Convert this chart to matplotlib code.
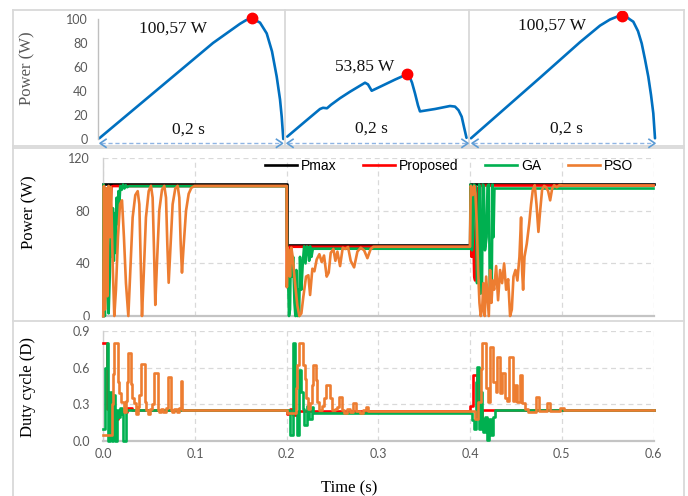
import matplotlib
matplotlib.use("Agg")
import matplotlib.pyplot as plt
from matplotlib.lines import Line2D

# ---------------- data ----------------
# top strip: P-V curves (x = fraction of the 0.2 s sweep, y = power W)
pv1_x = [0.0054, 0.2795, 0.6200, 0.7659, 0.7984, 0.8292, 0.8740, 0.9103, 0.9389, 0.9643, 0.9822, 0.9914, 1.0]
pv1_p = [0.6, 36, 80, 96, 99, 100.57, 97, 88, 73, 52, 33, 18.6, 0]
pv1_peak = (0.8292, 100.57)

pv2_x = [0.0033, 0.1009, 0.1837, 0.2002, 0.2223, 0.2443, 0.294, 0.3492, 0.4319, 0.4484, 0.4688, 0.5146,
         0.5973, 0.6619, 0.6773, 0.6911, 0.7077, 0.7242, 0.7352, 0.818, 0.9007, 0.9283, 0.9476, 0.9652, 0.9779, 0.9917]
pv2_p = [2, 14.5, 25, 26, 25.6, 28.5, 34, 39.4, 46.9, 45.5, 40.2, 43.5,
         49.5, 53.85, 52, 47, 38, 28, 23, 25, 27.5, 27, 24, 18.6, 10, 1]
pv2_peak = (0.6619, 53.85)

pv3_x = [0.0027, 0.3757, 0.5919, 0.70, 0.7541, 0.7919, 0.8173, 0.8405, 0.8622, 0.88, 0.9054, 0.9254,
         0.9432, 0.9611, 0.9757, 0.9881, 0.9973]
pv3_p = [0.6, 50, 79, 92.5, 97.5, 99.8, 100.57, 100, 97.5, 95.7, 88, 78, 65, 50.8, 36, 21, 0.6]
pv3_peak = (0.8173, 100.57)

peak_labels = ["100,57 W", "53,85 W", "100,57 W"]
span_label = "0,2 s"

# middle: power tracking (W)
pmax_t = [0, 0.2, 0.4, 0.6]
pmax_p = [100.57, 53.85, 100.57, 100.57]

prop_p_t = [0, .001, .002, .003, .0045, .006, .0075, .009, .011, .2, .2003, .2015, .203,
            .4, .4005, .4015, .4025, .4035, .4045, .4055, .407, .409, .411, .6]
prop_p_v = [0, 95, 15, 97, 55, 98, 80, 98.5, 98.9, 98.9, 22, 48, 52.7,
            52.7, 99, 45, 98, 60, 30, 27, 98, 70, 99.3, 99.3]

ga_p_t = [0, .0004, .0008, .0012, .0017, .0022, .003, .0045, .0058, .007, .0085, .0095, .0105, .0115,
          .0125, .0135, .0145, .0155, .0165, .0175, .0185, .020, .0215, .023, .0245, .026, .028,
          .2, .2003, .201, .2025, .2036, .2045, .206, .207, .2085, .2095, .2105, .2115, .2125, .2135,
          .2145, .216, .2175, .219, .2205, .222, .2235, .2245, .2255, .227, .2285,
          .4, .4004, .4015, .402, .4032, .404, .406, .4075, .409, .4098, .4105, .4115, .413, .4138,
          .415, .4162, .418, .419, .4205, .4215, .4235, .4245, .4255, .4265, .6]
ga_p_v = [0, 100, 5, 98, 0, 95, 60, 20, 2, 30, 83, 45, 82, 42,
          78, 48, 90, 70, 95, 85, 99, 96, 100, 97, 99.5, 98, 98.8,
          98.8, 53, 45, 0, 5, 50, 30, 45, 10, 0, 35, 0, 20, 0,
          45, 20, 40, 53, 40, 53, 52, 42, 53, 45, 51.2,
          51.2, 100, 98, 50, 60, 100, 99, 25, 30, 100, 98, 17, 25, 100,
          99, 50, 60, 99, 100, 20, 18, 100, 60, 97, 97]

pso_p_t = [0, .0007, .0018, .0029, .0044, .0058, .0073, .0084, .0102, .012, .0138, .016, .0182, .0204,
           .0225, .0247, .0273, .0295, .032, .0349, .0375, .0393, .0407, .0422, .044, .0465, .0495,
           .052, .0538, .0553, .0567, .0585, .061, .064, .0665, .0684, .0698, .0713, .0727, .0756,
           .0785, .0811, .0829, .0844, .0858, .0873, .0902, .0931, .096, .0993,
           .2, .2002, .2007, .2022, .2036, .2051, .2065, .2091, .2116, .2138, .216, .2182, .2211,
           .2236, .2255, .228, .2302, .2327, .2356, .2382, .2407, .2436, .2458, .248, .2509, .2531,
           .2553, .2582, .2611, .264, .2669, .2698, .2735, .2771, .2807, .2844, .288, .2916, .2945,
           .4, .4007, .4018, .4029, .4044, .4058, .4073, .4087, .4102, .4116, .4131, .4145, .416,
           .4175, .4189, .4204, .4218, .4233, .4247, .4262, .4284, .4305, .4327, .4349, .4371,
           .4393, .4415, .4436, .4455, .4473, .4495, .4516, .4538, .4556, .4567, .4578, .4593,
           .4618, .4644, .4665, .4684, .4705, .4724, .4745, .4764, .4785, .4807, .4829, .4851,
           .4873, .4895, .4916, .4945, .4975, .5018, .6]
pso_p_v = [0, 99, 5, 97, 15, 99, 60, 98, 40, 0, 20, 60, 85, 88,
           60, 25, 0, 35, 75, 92, 95, 85, 45, 0, 30, 75, 95,
           99, 90, 50, 8.4, 40, 80, 96, 99, 90, 55, 25.3, 45, 85,
           97, 99, 90, 55, 33, 50, 80, 93, 97.5, 98.9,
           98.9, 22, 52, 50, 30, 52, 45, 25, 8, 0, 2, 15, 30,
           31, 16, 36, 34, 43, 47, 41, 46, 30, 33, 48, 51, 42,
           49, 38, 52, 51, 52.5, 42, 37, 49, 52, 50, 44, 51, 52.7,
           52.7, 99, 97, 92, 99, 93, 70, 35, 10, 0, 5, 25, 0,
           30, 15, 0, 35, 10, 27, 20, 38, 12, 35, 25, 40,
           20, 28, 0, 5, 30, 35, 27, 45, 75, 35, 20, 45,
           55, 70, 85, 96, 99.5, 85, 64, 80, 96, 99, 98, 95,
           88, 97, 99.5, 98, 99.6, 99.3, 99.3]

# bottom: duty cycle (step signals)
prop_d_t = [0, .004, .0095, .0128, .0157, .0255, .031, .2, .2035, .2065, .212, .218,
            .4, .4035, .4072, .4126, .6]
prop_d_v = [.80, .26, .22, .18, .24, .27, .255, .22, .26, .21, .245, .245,
            .29, .54, .19, .256, .256]

ga_d_t = [0, .0018, .0036, .0055, .0073, .0095, .011, .0128, .0146, .0164, .0182, .02, .0218, .0244,
          .2036, .2065, .2091, .2109, .2138, .2156, .2175, .2193, .2218, .2247, .2273, .229,
          .4018, .4044, .4065, .408, .4102, .4116, .413, .4145, .4167, .4182, .4204, .4225, .4247, .4269, .6]
ga_d_v = [.10, .60, .80, .0, .40, .0, .38, .0, .25, .20, .27, .22, .0, .25,
          .046, .80, .24, .046, .58, .40, .26, .13, .29, .18, .28, .232,
          .17, .10, .48, .605, .10, .40, .18, .075, .196, .005, .18, .046, .196, .251, .251]

pso_d_t = [0, .0091, .0106, .0117, .0164, .0175, .0189, .0229, .0244, .0259, .0273, .0302, .0317,
           .0335, .0353, .0375, .0393, .0411, .0455, .047, .0491, .0513, .0535, .0557, .0593,
           .0607, .0629, .0655, .068, .0702, .0738, .0753, .0775, .08, .0826, .0844, .0862,
           .2, .2102, .2116, .2135, .2182, .22, .2211, .2236, .2255, .2273, .2291, .232, .2335,
           .2356, .2382, .2407, .2425, .2473, .2491, .2527, .2553, .2571, .26, .2625, .2655,
           .2691, .272, .2753, .28, .2836, .2865, .2891,
           .4055, .4091, .4116, .4131, .4175, .4196, .4218, .4255, .4284, .4298, .4327, .4345,
           .4382, .44, .4429, .4465, .4491, .4516, .4545, .4567, .46, .4636, .472, .4749, .4844,
           .4873, .4982, .5025, .6]
pso_d_v = [.046, .30, .55, .80, .48, .39, .32, .24, .33, .48, .72, .47, .35,
           .31, .22, .28, .38, .63, .32, .25, .22, .26, .30, .56, .25,
           .24, .26, .24, .27, .52, .25, .24, .26, .24, .27, .49, .251,
           .232, .43, .62, .80, .62, .51, .35, .26, .31, .46, .62, .50, .32,
           .25, .29, .35, .46, .35, .25, .26, .28, .36, .25, .23, .26,
           .24, .31, .245, .23, .25, .28, .243,
           .18, .32, .59, .80, .43, .32, .77, .48, .40, .69, .39, .56,
           .35, .33, .69, .33, .46, .32, .54, .31, .265, .24, .36, .243, .31,
           .243, .27, .256, .256]

series_names = ["Pmax", "Proposed", "GA", "PSO"]
series_colors = ["#000000", "#FF0000", "#00B050", "#ED7D31"]
x_ticks = [0.0, 0.1, 0.2, 0.3, 0.4, 0.5, 0.6]
p_ticks = [0, 40, 80, 120]
d_ticks = [0.0, 0.3, 0.6, 0.9]
top_ticks = [0, 20, 40, 60, 80, 100]

# ---------------- figure ----------------
W, H = 688, 496
fig = plt.figure(figsize=(W / 100, H / 100), dpi=100)
plt.rcParams["font.family"] = ["Lato", "DejaVu Sans"]

SERIF = ["Liberation Serif", "DejaVu Serif"]
SANS = ["Liberation Sans", "DejaVu Sans"]
GRAY_T = "#595959"
FRAME = "#d9d9d9"


def ax_at(l, t, r, b):
    return fig.add_axes([l / W, 1 - b / H, (r - l) / W, (b - t) / H])


def fx(x):
    return x / W


def fy(y):
    return 1 - y / H


def fline(x0, y0, x1, y1, **kw):
    fig.add_artist(Line2D([fx(x0), fx(x1)], [fy(y0), fy(y1)], transform=fig.transFigure, **kw))


# frames
fc = dict(color=FRAME, lw=1.3)
fline(12.5, 9.5, 684, 9.5, **fc)
fline(12.5, 146, 684, 146, **fc)
fline(12.5, 9.5, 12.5, 146, **fc)
fline(684, 9.5, 684, 146, **fc)
fline(284.5, 9.5, 284.5, 146, **fc)
fline(469.3, 9.5, 469.3, 146, **fc)
fline(12.5, 148.5, 684, 148.5, **fc)
fline(12.5, 148.5, 12.5, 496, **fc)
fline(684, 148.5, 684, 496, **fc)
fline(12.5, 321, 684, 321, **fc)

# ---- top strip ----
BLUE = "#0070C0"
top_axes = [ax_at(98.3, 19, 283.3, 139), ax_at(286.7, 19, 468, 139), ax_at(470.5, 19, 655.5, 139)]
top_ylims = [100, 100, 97.9]
curves = [(pv1_x, pv1_p, pv1_peak), (pv2_x, pv2_p, pv2_peak), (pv3_x, pv3_p, pv3_peak)]
for i, (ax, (xs, ps, pk)) in enumerate(zip(top_axes, curves)):
    ax.set_xlim(0, 1)
    ax.set_ylim(0, top_ylims[i])
    ax.patch.set_alpha(0)
    for s in ax.spines.values():
        s.set_visible(False)
    ax.set_xticks([])
    ax.plot(xs, ps, color=BLUE, lw=1.9, clip_on=False, solid_capstyle="round")
    ax.plot([pk[0]], [pk[1]], "o", color="#FF0000", ms=7.5, clip_on=False, zorder=5)
    if i == 0:
        ax.spines["left"].set_visible(True)
        ax.spines["left"].set_color("#bfbfbf")
        ax.spines["left"].set_linewidth(1.0)
        ax.set_yticks(top_ticks)
        ax.tick_params(axis="y", length=0, pad=7.5, labelsize=9, labelcolor=GRAY_T)
    else:
        ax.set_yticks([])

fig.text(fx(27), fy(68), "Power (W)", rotation=90, ha="center", va="center",
         fontsize=12, color=GRAY_T, family=SERIF)
for (cx, cy), s in zip([(173, 28.5), (365, 66.5), (551.5, 25.5)], peak_labels):
    fig.text(fx(cx), fy(cy), s, ha="center", va="center", fontsize=12.5, family=SERIF, color="#111111")
for cx, cy in [(188.3, 130), (371.7, 128.5), (566.7, 128.5)]:
    fig.text(fx(cx), fy(cy), span_label, ha="center", va="center", fontsize=12.5, family=SERIF, color="#111111")

# dashed span arrows
ARC = "#8fb4e3"
for x0, x1 in [(100, 282.5), (287, 468), (472, 655)]:
    y = 143.3
    fline(x0 + 1, y, x1 - 1, y, color=ARC, lw=1.0, ls=(0, (3, 2)))
    for xa, d in [(x0, 1), (x1, -1)]:
        fig.add_artist(Line2D([fx(xa + 6 * d), fx(xa), fx(xa + 6 * d)], [fy(y - 4), fy(y), fy(y + 4)],
                              transform=fig.transFigure, color="#5b9bd5", lw=1.2))

# ---- middle: power ----
axm = ax_at(103.3, 158.3, 653.5, 316)
axd = ax_at(103.3, 331, 653.5, 441)
for ax in (axm, axd):
    ax.set_xlim(0, 0.6)
    ax.set_xticks(x_ticks)
    ax.grid(True, ls=(0, (4, 3)), color="#d9d9d9", lw=0.9)
    ax.set_axisbelow(True)
    for k in ("top", "right"):
        ax.spines[k].set_visible(False)
    ax.spines["left"].set_color("#d0d0d0")
    ax.spines["left"].set_linewidth(1.0)
    ax.spines["bottom"].set_color("#c4c4c4")
    ax.spines["bottom"].set_linewidth(1.6)
    ax.tick_params(length=0, labelsize=9, labelcolor=GRAY_T)
    ax.tick_params(axis="y", pad=9.5)

axm.set_ylim(0, 120)
axm.set_yticks(p_ticks)
axm.set_xticklabels([])
lw = 1.9
h0, = axm.plot(pmax_t, pmax_p, drawstyle="steps-post", color=series_colors[0], lw=lw, zorder=2, clip_on=False)
h1, = axm.plot(prop_p_t, prop_p_v, color=series_colors[1], lw=lw, zorder=3, clip_on=False)
h2, = axm.plot(ga_p_t, ga_p_v, color=series_colors[2], lw=lw, zorder=4, clip_on=False)
h3, = axm.plot(pso_p_t, pso_p_v, color=series_colors[3], lw=lw, zorder=5, clip_on=False)

axd.set_ylim(0, 0.9)
axd.set_yticks(d_ticks)
axd.set_yticklabels([f"{v:.1f}" for v in d_ticks])
axd.set_xticklabels([f"{v:.1f}" for v in x_ticks])
axd.tick_params(axis="x", pad=5)
axd.plot(prop_d_t, prop_d_v, drawstyle="steps-post", color=series_colors[1], lw=lw, zorder=3, clip_on=False)
axd.plot(ga_d_t, ga_d_v, drawstyle="steps-post", color=series_colors[2], lw=lw, zorder=4, clip_on=False)
axd.plot(pso_d_t, pso_d_v, drawstyle="steps-post", color=series_colors[3], lw=lw, zorder=5, clip_on=False)

fig.legend([h0, h1, h2, h3], series_names, loc="center left", bbox_to_anchor=(fx(265), fy(165.5)),
           ncol=4, frameon=False, borderpad=0, borderaxespad=0, handlelength=2.3,
           handletextpad=0.3, columnspacing=1.9, prop={"family": SANS, "size": 10})

fig.text(fx(29), fy(212), "Power (W)", rotation=90, ha="center", va="center", fontsize=12, family=SERIF)
fig.text(fx(28), fy(387), "Duty cycle (D)", rotation=90, ha="center", va="center", fontsize=12, family=SERIF)
fig.text(fx(349), fy(488), "Time (s)", ha="center", va="center", fontsize=12, family=SERIF)

fig.savefig("out.png", dpi=100)
